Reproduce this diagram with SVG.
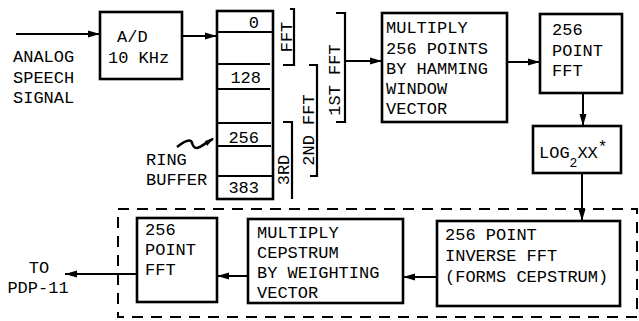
<svg xmlns="http://www.w3.org/2000/svg" width="639" height="321" viewBox="0 0 639 321">
<defs>
<style>
.box{fill:#fff;stroke:#000;stroke-width:2.6}
.ln{fill:none;stroke:#000;stroke-width:2}
.br{fill:none;stroke:#000;stroke-width:2.2}
.con{fill:none;stroke:#000;stroke-width:2;marker-end:url(#ah)}
text{font-family:"Liberation Mono","DejaVu Sans Mono",monospace;font-size:17px;fill:#000}
.sub{font-size:13px}
.sup{font-size:16px}
</style>
<marker id="ah" markerUnits="userSpaceOnUse" markerWidth="13" markerHeight="8" refX="12" refY="4" orient="auto">
<path d="M0,0.5 L12,4 L0,7.5 z" fill="#000"/>
</marker>
</defs>
<rect width="639" height="321" fill="#fff"/>

<g id="input-label">
<text x="13" y="62">ANALOG</text>
<text x="13" y="83">SPEECH</text>
<text x="13" y="103">SIGNAL</text>
</g>

<g id="ad">
<rect class="box" x="100" y="12" width="82" height="67"/>
<text x="117" y="42">A/D</text>
<text x="108" y="63">10 KHz</text>
</g>

<g id="ring-buffer">
<rect class="box" x="217" y="11" width="56" height="188"/>
<path class="ln" d="M217,32 H273 M217,64 H270 M217,89 H270 M217,123 H271 M217,146 H271 M217,176 H273"/>
<text x="259" y="28" text-anchor="end">0</text>
<text x="261" y="83" text-anchor="end">128</text>
<text x="259" y="143" text-anchor="end">256</text>
<text x="259" y="193" text-anchor="end">383</text>
</g>

<g id="ring-label">
<text x="146" y="165">RING</text>
<text x="146" y="185">BUFFER</text>
<path d="M177,147 C182,143 188,139 191,141 C193,143 192,148 197,148 C202,147 206,142 213,139" fill="none" stroke="#000" stroke-width="2.5"/>
<path d="M205,141 L214,138 L207,146 z" fill="#000"/>
</g>

<g id="brackets">
<path class="br" d="M290,9 H294 V65 H283"/>
<text transform="translate(292,37) rotate(-90)" text-anchor="middle">FFT</text>
<path class="br" d="M309,65 H317 V176 H310"/>
<text transform="translate(314,130) rotate(-90)" text-anchor="middle">2ND FFT</text>
<path class="br" d="M336,13 H345 V122 H336"/>
<text transform="translate(340,80) rotate(-90)" text-anchor="middle">1ST FFT</text>
<path class="br" d="M283,122 H292 V199"/>
<text transform="translate(289,170) rotate(-90)" text-anchor="middle">3RD</text>
</g>

<g id="hamming">
<rect class="box" x="382" y="13" width="125" height="109"/>
<text x="386" y="33">MULTIPLY</text>
<text x="386" y="54">256 POINTS</text>
<text x="386" y="74">BY HAMMING</text>
<text x="386" y="94">WINDOW</text>
<text x="386" y="114">VECTOR</text>
</g>

<g id="fft1">
<rect class="box" x="540" y="14" width="82" height="79"/>
<text x="552" y="35">256</text>
<text x="552" y="56">POINT</text>
<text x="552" y="76">FFT</text>
</g>

<g id="log">
<rect class="box" x="533" y="126" width="88" height="47"/>
<text x="539" y="158">LOG<tspan class="sub" dy="9">2</tspan><tspan dy="-9">XX</tspan><tspan class="sup" dy="-6">*</tspan></text>
</g>

<g id="dashed-group">
<rect x="118" y="209" width="519" height="108" fill="none" stroke="#000" stroke-width="2" stroke-dasharray="11 8"/>
</g>

<g id="inverse-fft">
<rect class="box" x="437" y="221" width="183" height="85"/>
<text x="445" y="240">256 POINT</text>
<text x="445" y="261">INVERSE FFT</text>
<text x="445" y="282">(FORMS CEPSTRUM)</text>
</g>

<g id="weighting">
<rect class="box" x="248" y="219" width="155" height="84"/>
<text x="257" y="238">MULTIPLY</text>
<text x="257" y="258">CEPSTRUM</text>
<text x="257" y="278">BY WEIGHTING</text>
<text x="257" y="298">VECTOR</text>
</g>

<g id="fft2">
<rect class="box" x="137" y="218" width="80" height="84"/>
<text x="145" y="235">256</text>
<text x="145" y="255">POINT</text>
<text x="145" y="275">FFT</text>
</g>

<g id="output-label">
<text x="39" y="273" text-anchor="middle">TO</text>
<text x="38" y="293" text-anchor="middle">PDP-11</text>
</g>

<g id="connectors">
<path class="con" d="M16,34 H100"/>
<path class="con" d="M182,36 H217"/>
<path class="con" d="M345,61 H382"/>
<path class="con" d="M507,62 H540"/>
<path class="con" d="M583,93 V126"/>
<path class="con" d="M582,173 V221"/>
<path class="con" d="M437,277 H403"/>
<path class="con" d="M248,276 H217"/>
<path class="con" d="M137,274 H65"/>
</g>
</svg>
